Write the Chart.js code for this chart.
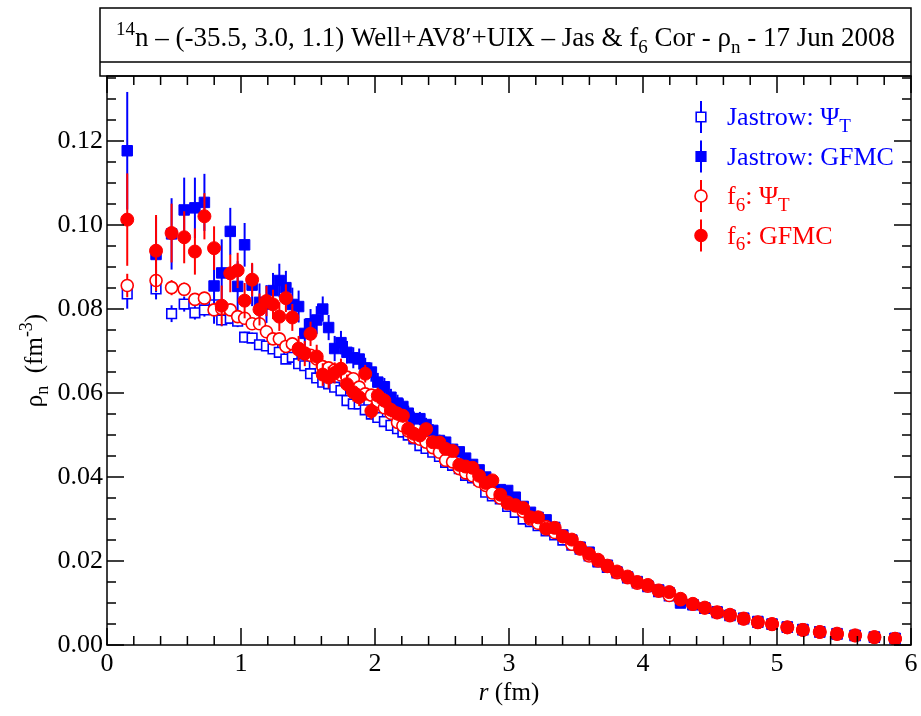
<!DOCTYPE html>
<html>
<head>
<meta charset="utf-8">
<script src="https://cdn.jsdelivr.net/npm/chart.js@4.4.0/dist/chart.umd.min.js"></script>
<style>
  html, body { margin: 0; padding: 0; background: #fff; }
  #wrap { width: 921px; height: 716px; }
</style>
</head>
<body>
<div id="wrap"><canvas id="myChart" width="921" height="716"></canvas></div>
<script>
// r grid (fm), shared by all four series
const radius = [
  0.151, 0.366, 0.482, 0.576, 0.656, 0.727, 0.799, 0.856, 0.920, 0.975, 1.027, 1.083,
  1.138, 1.190, 1.239, 1.286, 1.335, 1.383, 1.430, 1.476, 1.519, 1.565,
  1.610, 1.654, 1.699, 1.746, 1.791, 1.838, 1.882, 1.927, 1.973, 2.021,
  2.070, 2.119, 2.168, 2.208, 2.248, 2.290, 2.335, 2.381, 2.431, 2.481,
  2.527, 2.579, 2.629, 2.676, 2.728, 2.777, 2.826, 2.876, 2.935, 2.990, 3.047, 3.106,
  3.160, 3.217, 3.277, 3.341, 3.402, 3.469, 3.531, 3.598, 3.665, 3.734,
  3.806, 3.885, 3.957, 4.036, 4.117, 4.196, 4.280, 4.372, 4.461, 4.553,
  4.649, 4.751, 4.857, 4.963, 5.077, 5.193, 5.319, 5.448, 5.583, 5.727, 5.881
];

// Jastrow: Psi_T (open blue squares)
const jasPsiT = [
  0.0836, 0.0848, 0.0789, 0.0812, 0.0791, 0.0798, 0.0810, 0.0774, 0.0778, 0.0771, 0.0733, 0.0731,
  0.0715, 0.0712, 0.0705, 0.0697, 0.0681, 0.0685, 0.0670, 0.0665, 0.0646, 0.0636,
  0.0626, 0.0622, 0.0614, 0.0606, 0.0582, 0.0574, 0.0574, 0.0560, 0.0550, 0.0542,
  0.0532, 0.0523, 0.0515, 0.0507, 0.0500, 0.0491, 0.0475, 0.0468, 0.0459, 0.0449,
  0.0435, 0.0428, 0.0420, 0.0404, 0.0398, 0.0392, 0.0364, 0.0355, 0.0348, 0.0330, 0.0316, 0.0300,
  0.0294, 0.0284, 0.0272, 0.0262, 0.0250, 0.0238, 0.0228, 0.0212, 0.0198, 0.0185,
  0.0172, 0.0160, 0.0148, 0.0139, 0.0127, 0.0117, 0.0107, 0.0096, 0.0087, 0.0077,
  0.0070, 0.0062, 0.0054, 0.0049, 0.0042, 0.0036, 0.0031, 0.0026, 0.0022, 0.0018, 0.0015
];
const jasPsiTErr = [
  0.0035, 0.0025, 0.0020, 0.0018, 0.0016, 0.0016, 0.0015, 0.0015, 0.0014, 0.0014, 0.0013, 0.0013,
  0.0012, 0.0012, 0.0012, 0.0011, 0.0011, 0.0011, 0.0010, 0.0010, 0.0010, 0.0010,
  0.0009, 0.0009, 0.0009, 0.0009, 0.0008, 0.0008, 0.0008, 0.0008, 0.0007, 0.0007,
  0.0007, 0.0007, 0.0006, 0.0006, 0.0006, 0.0006, 0.0006, 0.0005, 0.0005, 0.0005,
  0.0005, 0.0005, 0.0005, 0.0004, 0.0004, 0.0004, 0.0004, 0.0004, 0.0004, 0.0004, 0.0003, 0.0003,
  0.0003, 0.0003, 0.0003, 0.0003, 0.0003, 0.0003, 0.0003, 0.0002, 0.0002, 0.0002,
  0.0002, 0.0002, 0.0002, 0.0002, 0.0002, 0.0002, 0.0002, 0.0001, 0.0001, 0.0001,
  0.0001, 0.0001, 0.0001, 0.0001, 0.0001, 0.0001, 0.0001, 0.0001, 0.0001, 0.0001, 0.0001
];

// Jastrow: GFMC (filled blue squares)
const jasGfmc = [
  0.1177, 0.0930, 0.0979, 0.1036, 0.1041, 0.1054, 0.0855, 0.0886, 0.0985, 0.0854, 0.0953, 0.0857,
  0.0816, 0.0812, 0.0844, 0.0868, 0.0851, 0.0811, 0.0806, 0.0742, 0.0765, 0.0774,
  0.0800, 0.0756, 0.0706, 0.0720, 0.0697, 0.0684, 0.0681, 0.0660, 0.0650, 0.0626,
  0.0615, 0.0590, 0.0576, 0.0568, 0.0552, 0.0539, 0.0539, 0.0525, 0.0511, 0.0487,
  0.0483, 0.0466, 0.0460, 0.0445, 0.0430, 0.0417, 0.0400, 0.0385, 0.0370, 0.0368, 0.0352, 0.0330,
  0.0316, 0.0304, 0.0298, 0.0280, 0.0262, 0.0250, 0.0233, 0.0221, 0.0199, 0.0190,
  0.0174, 0.0162, 0.0151, 0.0141, 0.0131, 0.0124, 0.0100, 0.0096, 0.0088, 0.0079,
  0.0071, 0.0064, 0.0056, 0.0050, 0.0043, 0.0037, 0.0031, 0.0027, 0.0023, 0.0019, 0.0016
];
const jasGfmcErr = [
  0.0140, 0.0090, 0.0085, 0.0077, 0.0072, 0.0068, 0.0090, 0.0080, 0.0056, 0.0060, 0.0052, 0.0050,
  0.0045, 0.0045, 0.0042, 0.0040, 0.0040, 0.0040, 0.0038, 0.0035, 0.0035, 0.0033,
  0.0030, 0.0030, 0.0030, 0.0028, 0.0027, 0.0025, 0.0025, 0.0024, 0.0023, 0.0022,
  0.0021, 0.0020, 0.0020, 0.0019, 0.0018, 0.0017, 0.0016, 0.0016, 0.0015, 0.0014,
  0.0013, 0.0013, 0.0012, 0.0012, 0.0011, 0.0011, 0.0010, 0.0010, 0.0009, 0.0009, 0.0008, 0.0008,
  0.0008, 0.0007, 0.0007, 0.0007, 0.0006, 0.0006, 0.0006, 0.0005, 0.0005, 0.0005,
  0.0005, 0.0004, 0.0004, 0.0004, 0.0004, 0.0003, 0.0003, 0.0003, 0.0003, 0.0003,
  0.0002, 0.0002, 0.0002, 0.0002, 0.0002, 0.0002, 0.0002, 0.0001, 0.0001, 0.0001, 0.0001
];

// f6: Psi_T (open red circles)
const f6PsiT = [
  0.0856, 0.0868, 0.0851, 0.0847, 0.0823, 0.0826, 0.0798, 0.0801, 0.0798, 0.0782, 0.0778, 0.0765,
  0.0765, 0.0746, 0.0729, 0.0729, 0.0711, 0.0717, 0.0703, 0.0695, 0.0690, 0.0681,
  0.0663, 0.0660, 0.0655, 0.0643, 0.0638, 0.0634, 0.0614, 0.0598, 0.0595, 0.0580,
  0.0565, 0.0552, 0.0530, 0.0522, 0.0510, 0.0495, 0.0490, 0.0483, 0.0470, 0.0459,
  0.0440, 0.0436, 0.0420, 0.0410, 0.0403, 0.0390, 0.0380, 0.0362, 0.0350, 0.0340, 0.0331, 0.0318,
  0.0300, 0.0290, 0.0282, 0.0268, 0.0258, 0.0240, 0.0232, 0.0212, 0.0200, 0.0187,
  0.0172, 0.0160, 0.0147, 0.0140, 0.0128, 0.0118, 0.0108, 0.0097, 0.0088, 0.0077,
  0.0070, 0.0062, 0.0054, 0.0049, 0.0042, 0.0036, 0.0031, 0.0026, 0.0022, 0.0018, 0.0015
];
const f6PsiTErr = [
  0.0028, 0.0025, 0.0018, 0.0016, 0.0015, 0.0015, 0.0014, 0.0014, 0.0013, 0.0013, 0.0012, 0.0012,
  0.0011, 0.0011, 0.0011, 0.0010, 0.0010, 0.0010, 0.0010, 0.0009, 0.0009, 0.0009,
  0.0008, 0.0008, 0.0008, 0.0008, 0.0007, 0.0007, 0.0007, 0.0007, 0.0007, 0.0006,
  0.0006, 0.0006, 0.0006, 0.0006, 0.0005, 0.0005, 0.0005, 0.0005, 0.0005, 0.0005,
  0.0004, 0.0004, 0.0004, 0.0004, 0.0004, 0.0004, 0.0004, 0.0003, 0.0003, 0.0003, 0.0003, 0.0003,
  0.0003, 0.0003, 0.0003, 0.0003, 0.0002, 0.0002, 0.0002, 0.0002, 0.0002, 0.0002,
  0.0002, 0.0002, 0.0002, 0.0002, 0.0002, 0.0001, 0.0001, 0.0001, 0.0001, 0.0001,
  0.0001, 0.0001, 0.0001, 0.0001, 0.0001, 0.0001, 0.0001, 0.0001, 0.0001, 0.0001, 0.0001
];

// f6: GFMC (filled red circles)
const f6Gfmc = [
  0.1013, 0.0939, 0.0981, 0.0971, 0.0937, 0.1021, 0.0945, 0.0808, 0.0885, 0.0892, 0.0820, 0.0870,
  0.0799, 0.0819, 0.0811, 0.0782, 0.0826, 0.0780, 0.0706, 0.0694, 0.0741, 0.0687,
  0.0644, 0.0637, 0.0648, 0.0658, 0.0621, 0.0602, 0.0590, 0.0646, 0.0557, 0.0594,
  0.0582, 0.0560, 0.0551, 0.0546, 0.0515, 0.0503, 0.0499, 0.0514, 0.0483, 0.0482,
  0.0467, 0.0462, 0.0429, 0.0425, 0.0422, 0.0403, 0.0386, 0.0392, 0.0358, 0.0337, 0.0333, 0.0326,
  0.0304, 0.0304, 0.0277, 0.0279, 0.0259, 0.0251, 0.0229, 0.0217, 0.0203, 0.0189,
  0.0175, 0.0163, 0.0150, 0.0143, 0.0130, 0.0126, 0.0110, 0.0098, 0.0089, 0.0078,
  0.0072, 0.0063, 0.0054, 0.0050, 0.0042, 0.0036, 0.0031, 0.0027, 0.0023, 0.0019, 0.0015
];
const f6GfmcErr = [
  0.0110, 0.0085, 0.0070, 0.0062, 0.0055, 0.0055, 0.0052, 0.0048, 0.0045, 0.0042, 0.0042, 0.0040,
  0.0038, 0.0036, 0.0035, 0.0034, 0.0033, 0.0032, 0.0030, 0.0030, 0.0029, 0.0028,
  0.0027, 0.0026, 0.0025, 0.0024, 0.0023, 0.0022, 0.0021, 0.0021, 0.0020, 0.0019,
  0.0018, 0.0018, 0.0017, 0.0016, 0.0016, 0.0015, 0.0014, 0.0014, 0.0013, 0.0013,
  0.0012, 0.0012, 0.0011, 0.0011, 0.0010, 0.0010, 0.0009, 0.0009, 0.0009, 0.0008, 0.0008, 0.0008,
  0.0007, 0.0007, 0.0007, 0.0006, 0.0006, 0.0006, 0.0005, 0.0005, 0.0005, 0.0005,
  0.0004, 0.0004, 0.0004, 0.0004, 0.0003, 0.0003, 0.0003, 0.0003, 0.0003, 0.0002,
  0.0002, 0.0002, 0.0002, 0.0002, 0.0002, 0.0002, 0.0001, 0.0001, 0.0001, 0.0001, 0.0001
];

const xTickLabels = ['0', '1', '2', '3', '4', '5', '6'];
const yTickLabels = ['0.00', '0.02', '0.04', '0.06', '0.08', '0.10', '0.12'];

const BLUE = '#0000ff';
const RED = '#ff0000';
const FONT = '"Liberation Serif", "Times New Roman", serif';

const toPoints = vals => radius.map((r, i) => ({ x: r, y: vals[i] }));

// draw a run of text with sub/superscript pieces: parts = [[text, mode], ...]
function drawRich(ctx, parts, x, y, size, align) {
    const small = Math.round(size * 0.72);
    const fontFor = m => (m === 'it' ? 'italic ' : '') + ((m === 'sup' || m === 'sub') ? small : size) + 'px ' + FONT;
    let total = 0;
    parts.forEach(p => { ctx.font = fontFor(p[1]); total += ctx.measureText(p[0]).width; });
    let cx = align === 'center' ? x - total / 2 : (align === 'right' ? x - total : x);
    ctx.textAlign = 'left';
    ctx.textBaseline = 'alphabetic';
    parts.forEach(p => {
        ctx.font = fontFor(p[1]);
        const dy = p[1] === 'sup' ? -size * 0.4 : (p[1] === 'sub' ? size * 0.25 : 0);
        ctx.fillText(p[0], cx, y + dy);
        cx += ctx.measureText(p[0]).width;
    });
}

/*
    Error bars, drawn just before each dataset's markers
*/
const errorBars = {
    id: 'errorBars',
    beforeDatasetDraw(chart, args) {
        const ds = chart.data.datasets[args.index];
        if (!ds.errors) return;
        const { ctx } = chart;
        const yScale = chart.scales.y;
        ctx.save();
        ctx.strokeStyle = ds.borderColor;
        ctx.lineWidth = 2;
        args.meta.data.forEach((pt, i) => {
            const v = ds.data[i].y;
            const e = ds.errors[i];
            ctx.beginPath();
            ctx.moveTo(pt.x, yScale.getPixelForValue(v + e));
            ctx.lineTo(pt.x, yScale.getPixelForValue(v - e));
            ctx.stroke();
        });
        ctx.restore();
    }
};

/*
    Frame, inward ticks, title box, axis titles and legend
*/
const decorations = {
    id: 'decorations',
    afterDraw(chart) {
        const { ctx, chartArea: a } = chart;
        const xs = chart.scales.x, ys = chart.scales.y;
        ctx.save();
        ctx.strokeStyle = '#000';
        ctx.fillStyle = '#000';
        ctx.lineWidth = 1.5;

        // ticks on all four sides
        ctx.beginPath();
        for (let k = 0; k <= 30; k++) {
            const px = xs.getPixelForValue(k * 0.2);
            const len = k % 5 === 0 ? 17 : 9;
            ctx.moveTo(px, a.bottom); ctx.lineTo(px, a.bottom - len);
            ctx.moveTo(px, a.top); ctx.lineTo(px, a.top + len);
        }
        for (let k = 0; k * 0.005 <= ys.max + 1e-9; k++) {
            const py = ys.getPixelForValue(k * 0.005);
            const len = k % 4 === 0 ? 17 : 9;
            ctx.moveTo(a.left, py); ctx.lineTo(a.left + len, py);
            ctx.moveTo(a.right, py); ctx.lineTo(a.right - len, py);
        }
        ctx.stroke();
        ctx.strokeRect(a.left, a.top, a.right - a.left, a.bottom - a.top);

        // title box
        const boxLeft = a.left - 7;
        ctx.strokeRect(boxLeft, 8, a.right - boxLeft, a.top - 8);
        ctx.beginPath();
        ctx.moveTo(boxLeft, 62); ctx.lineTo(a.right, 62);
        ctx.stroke();
        drawRich(ctx, [['14', 'sup'], ['n \u2013 (-35.5, 3.0, 1.1) Well+AV8\u2032+UIX \u2013 Jas & f', ''], ['6', 'sub'],
            [' Cor - \u03c1', ''], ['n', 'sub'], [' - 17 Jun 2008', '']], (boxLeft + a.right) / 2, 46, 27, 'center');

        // x axis title
        drawRich(ctx, [['r', 'it'], [' (fm)', '']], (a.left + a.right) / 2, 700, 25, 'center');

        // y axis title
        ctx.save();
        ctx.translate(42, (a.top + a.bottom) / 2);
        ctx.rotate(-Math.PI / 2);
        drawRich(ctx, [['\u03c1', ''], ['n', 'sub'], ['  (fm', ''], ['-3', 'sup'], [')', '']], 0, 0, 25, 'center');
        ctx.restore();

        // legend
        const legendRows = [
            { color: BLUE, style: 'rect', fill: '#fff', parts: [['Jastrow: \u03a8', ''], ['T', 'sub']] },
            { color: BLUE, style: 'rect', fill: BLUE, parts: [['Jastrow: GFMC', '']] },
            { color: RED, style: 'circle', fill: '#fff', parts: [['f', ''], ['6', 'sub'], [': \u03a8', ''], ['T', 'sub']] },
            { color: RED, style: 'circle', fill: RED, parts: [['f', ''], ['6', 'sub'], [': GFMC', '']] }
        ];
        legendRows.forEach((row, i) => {
            const mx = 701, my = 117 + i * 39.5;
            ctx.strokeStyle = row.color;
            ctx.lineWidth = 2;
            ctx.beginPath();
            ctx.moveTo(mx, my - 16); ctx.lineTo(mx, my + 16);
            ctx.stroke();
            ctx.fillStyle = row.fill;
            ctx.lineWidth = 1.6;
            ctx.beginPath();
            if (row.style === 'rect') ctx.rect(mx - 4.8, my - 4.8, 9.6, 9.6);
            else ctx.arc(mx, my, 6, 0, Math.PI * 2);
            ctx.fill();
            ctx.stroke();
            ctx.fillStyle = row.color;
            drawRich(ctx, row.parts, 727, my + 8, 26, 'left');
        });
        ctx.restore();
    }
};

const ctx = document.getElementById('myChart').getContext('2d');
const myChart = new Chart(ctx, {
    type: 'scatter',
    data: {
        datasets: [
            {
                label: 'f6: GFMC', data: toPoints(f6Gfmc), errors: f6GfmcErr,
                pointStyle: 'circle', pointRadius: 6.5, backgroundColor: RED, borderColor: RED, borderWidth: 1
            },
            {
                label: 'f6: PsiT', data: toPoints(f6PsiT), errors: f6PsiTErr,
                pointStyle: 'circle', pointRadius: 6, backgroundColor: '#fff', borderColor: RED, borderWidth: 1.6
            },
            {
                label: 'Jastrow: GFMC', data: toPoints(jasGfmc), errors: jasGfmcErr,
                pointStyle: 'rect', pointRadius: 7.4, backgroundColor: BLUE, borderColor: BLUE, borderWidth: 1
            },
            {
                label: 'Jastrow: PsiT', data: toPoints(jasPsiT), errors: jasPsiTErr,
                pointStyle: 'rect', pointRadius: 6.8, backgroundColor: '#fff', borderColor: BLUE, borderWidth: 1.6
            }
        ]
    },
    options: {
        responsive: false,
        animation: false,
        events: [],
        layout: { padding: { top: 76, right: 10, left: 0, bottom: 0 } },
        plugins: { legend: { display: false }, tooltip: { enabled: false } },
        scales: {
            x: {
                type: 'linear', min: 0, max: 6,
                grid: { display: false, drawTicks: false },
                border: { display: false },
                ticks: {
                    stepSize: 1, padding: 4, color: '#000',
                    font: { family: FONT, size: 26 },
                    callback: (v) => xTickLabels[Math.round(v)] ?? ''
                },
                afterFit: (scale) => { scale.height = 71; scale.paddingLeft = 0; scale.paddingRight = 0; }
            },
            y: {
                type: 'linear', min: 0, max: 0.1355,
                grid: { display: false, drawTicks: false },
                border: { display: false },
                ticks: {
                    stepSize: 0.02, includeBounds: false, padding: 4, color: '#000',
                    font: { family: FONT, size: 26 },
                    callback: (v) => yTickLabels[Math.round(v / 0.02)] ?? ''
                },
                afterFit: (scale) => { scale.width = 107; scale.paddingTop = 0; scale.paddingBottom = 0; }
            }
        }
    },
    plugins: [errorBars, decorations]
});
</script>
</body>
</html>
